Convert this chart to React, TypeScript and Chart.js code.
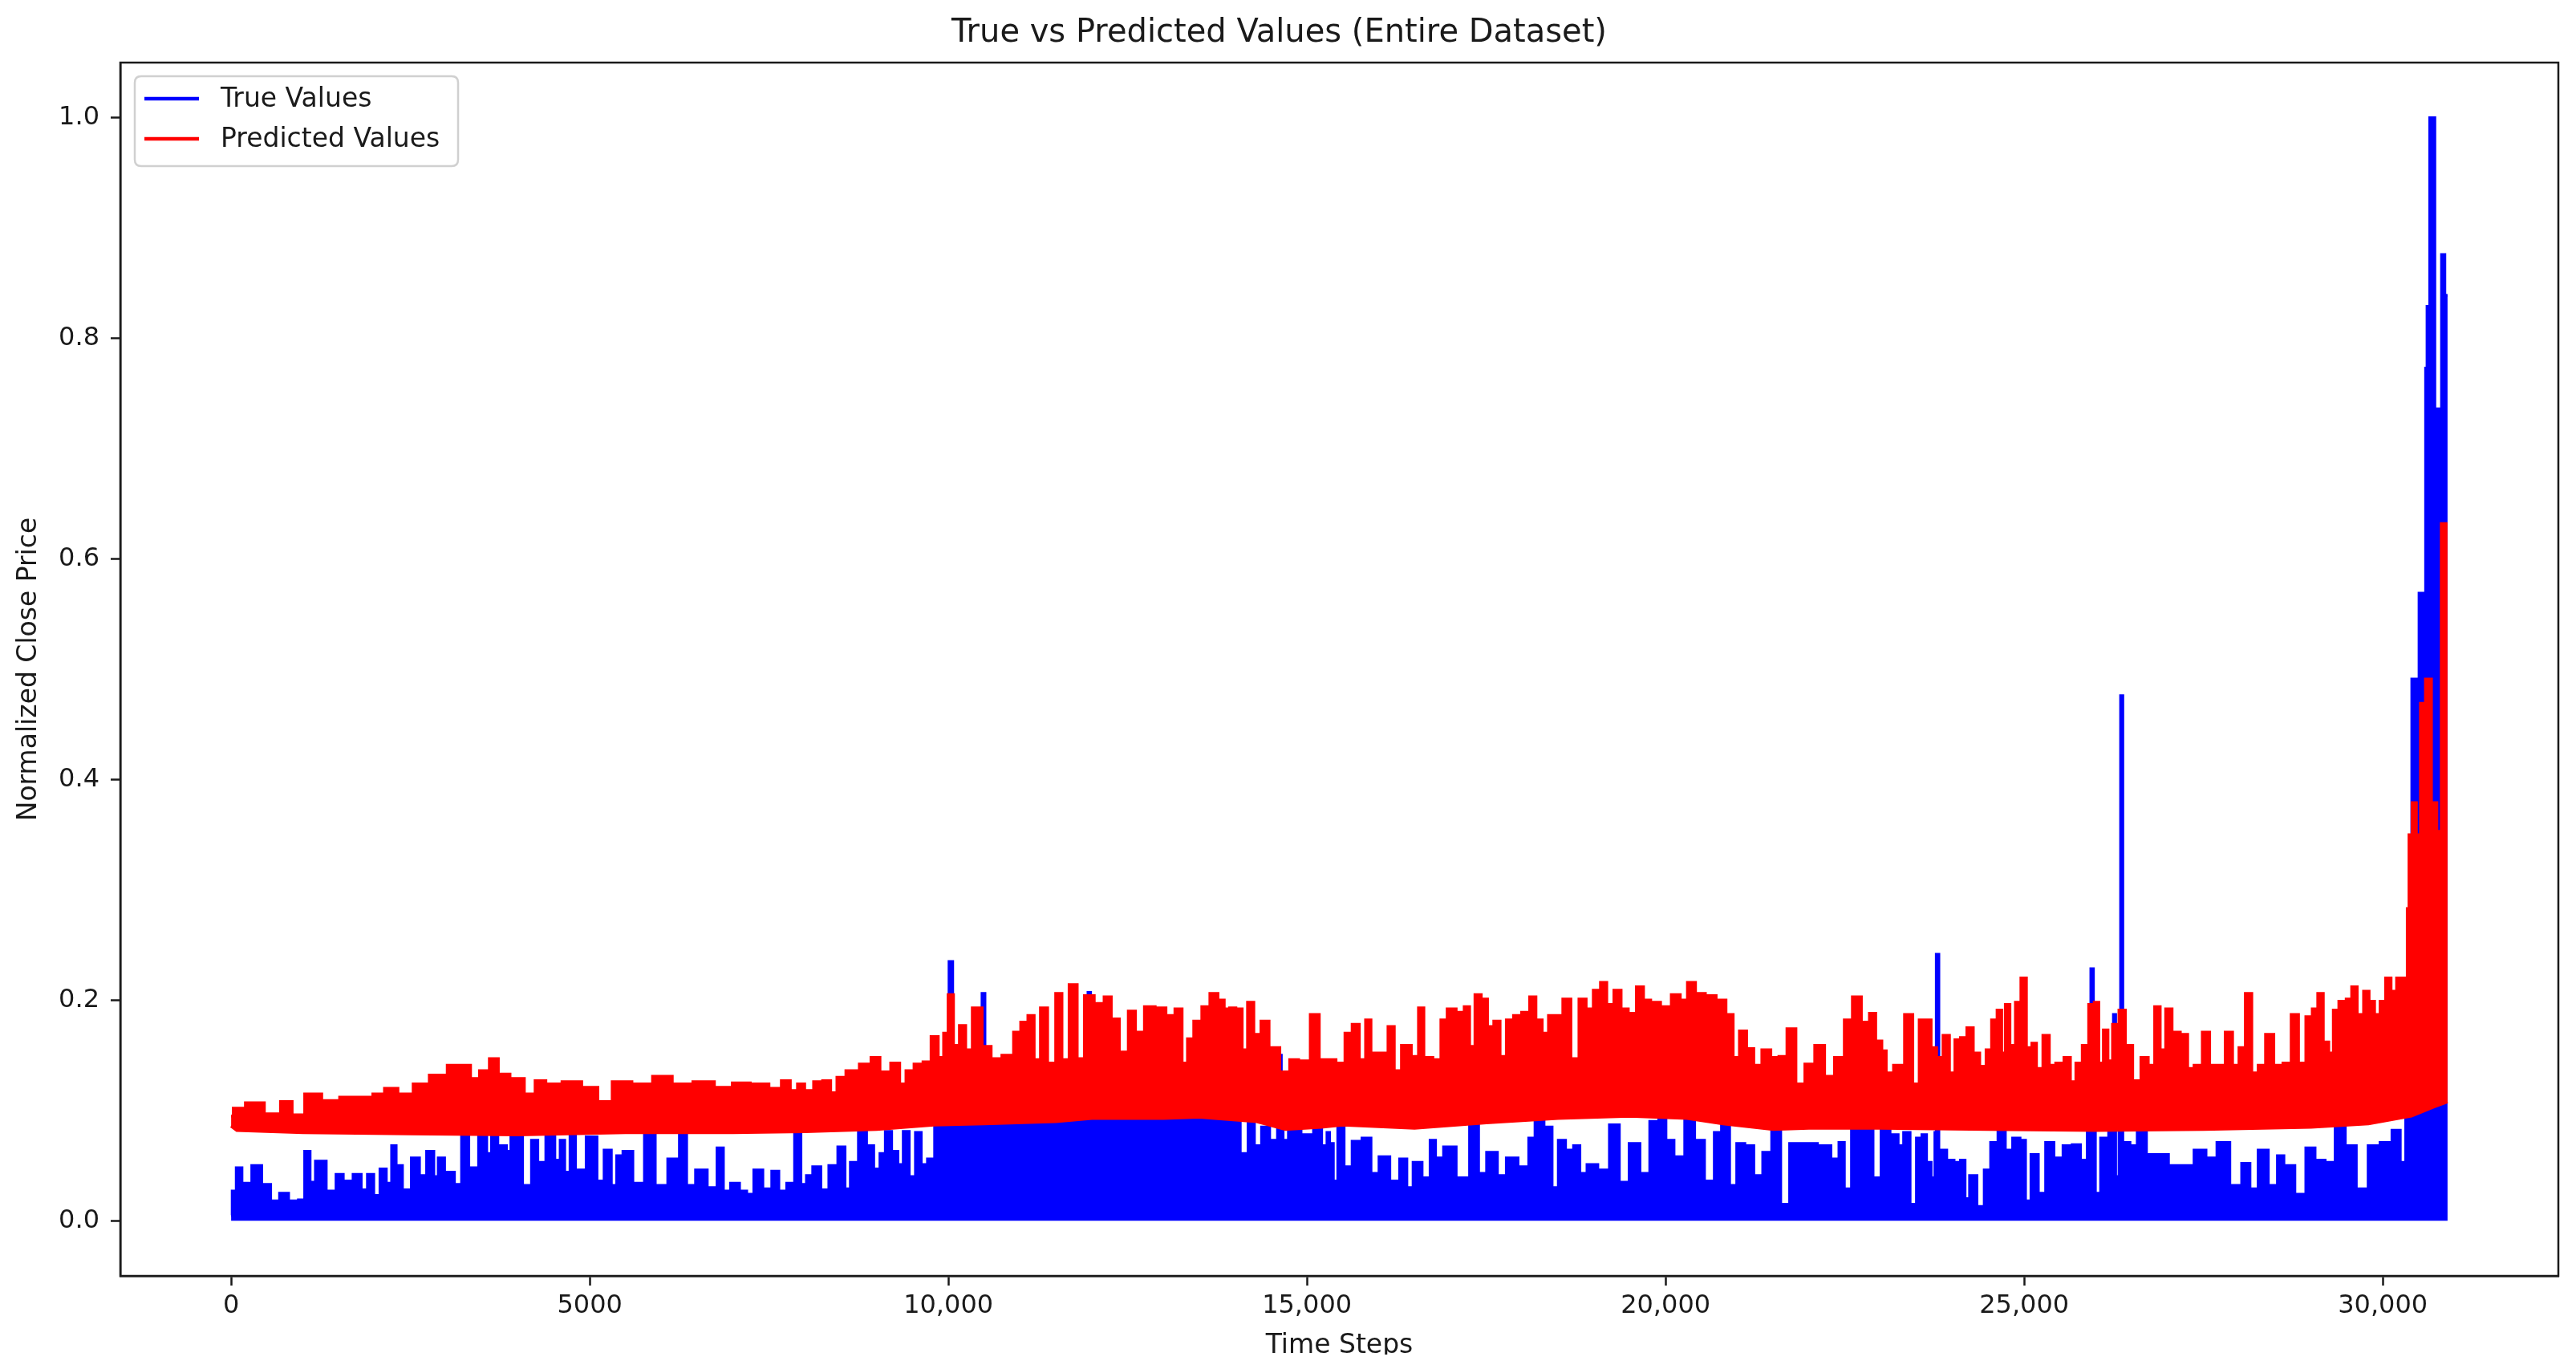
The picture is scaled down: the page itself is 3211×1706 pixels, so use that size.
import React, { useEffect, useRef } from "react";
import { Chart, registerables } from "chart.js";

Chart.register(...registerables);

// ---- Data ----
const trueSteps = [
  0, 30, 113, 188, 388, 463, 638, 713, 888, 988, 1063, 1138, 1213, 1438, 1488, 1638, 1763, 1863, 1938, 2038,
  2113, 2213, 2263, 2338, 2438, 2588, 2663, 2788, 2863, 2913, 3038, 3188, 3238, 3388, 3513, 3613, 3648, 3788,
  3888, 3913, 3988, 4138, 4238, 4313, 4463, 4563, 4613, 4688, 4763, 4838, 5063, 5138, 5263, 5338, 5413, 5513,
  5688, 5838, 5988, 6188, 6313, 6388, 6563, 6713, 6838, 6888, 7038, 7138, 7238, 7338, 7488, 7588,
  7684, 7809, 7904, 7984, 8059, 8159, 8284, 8384, 8534, 8584, 8684, 8809, 8909, 9009, 9084, 9159, 9259, 9334,
  9409, 9499, 9584, 9659, 9759, 9859, 10000, 10020, 10050, 10070, 10180, 10209, 10240, 10460, 10480, 10500,
  10520, 11390, 11409, 11430, 11590, 11609, 11630, 11940, 11955, 11975, 11990, 12240, 12259, 12280, 12460,
  12484, 12510, 13090, 13109, 13130, 13390, 13409, 13430, 13940, 13959, 13980, 14159, 14200, 14334, 14400,
  14559, 14620, 14634, 14650, 14684, 14800, 15034, 15150, 15259, 15300,
  15330, 15405, 15455, 15580, 15680, 15855, 15930, 16080, 16230, 16355, 16430, 16530, 16680, 16755, 16830,
  16980, 17180, 17355, 17430, 17580, 17730, 17830, 18055, 18130, 18230, 18380, 18455, 18555, 18655, 18780,
  18830, 18980, 19130, 19305, 19405, 19580, 19705, 19855, 19955, 20055, 20180, 20355, 20455, 20630, 20730,
  20830, 20955, 21030, 21180, 21280, 21430, 21530, 21680, 21780, 22005, 22230, 22380, 22455, 22530, 22655,
  22830, 22955, 23055,
  23204, 23281, 23358, 23460, 23536, 23613, 23664, 23741, 23770, 23780, 23805, 23815, 23869, 23971, 24073,
  24150, 24201, 24277, 24405, 24482, 24584, 24686, 24788, 24891, 24993, 25044, 25146, 25248, 25351, 25478,
  25606, 25734, 25836, 25925, 25935, 25960, 25970, 26015, 26117, 26240, 26250, 26270, 26280, 26306, 26340,
  26350, 26370, 26380, 26424, 26526, 26628, 26781, 26935, 27088, 27292, 27446, 27624, 27752, 27982, 28084,
  28212, 28314, 28493, 28570, 28672, 28876, 28979, 29132, 29260, 29413, 29541, 29720, 29873, 30052, 30205,
  30282, 30358, 30400, 30410, 30490, 30500, 30512, 30568, 30590, 30605, 30630, 30680, 30716, 30735, 30754,
  30791, 30810, 30829, 30860, 30870, 30903,
];
const trueValues = [
  0.005, 0.027, 0.048, 0.034, 0.05, 0.033, 0.018, 0.025, 0.018, 0.019, 0.063, 0.035, 0.054, 0.027, 0.042, 0.036, 0.042, 0.028, 0.042, 0.023,
  0.047, 0.034, 0.068, 0.05, 0.028, 0.057, 0.041, 0.063, 0.04, 0.057, 0.044, 0.033, 0.082, 0.048, 0.076, 0.061, 0.086, 0.068,
  0.063, 0.078, 0.079, 0.032, 0.073, 0.053, 0.08, 0.055, 0.073, 0.044, 0.079, 0.046, 0.076, 0.036, 0.064, 0.032, 0.059, 0.063,
  0.034, 0.08, 0.032, 0.056, 0.078, 0.032, 0.046, 0.03, 0.066, 0.027, 0.034, 0.027, 0.024, 0.046, 0.029, 0.045,
  0.027, 0.034, 0.079, 0.033, 0.041, 0.049, 0.028, 0.05, 0.067, 0.029, 0.053, 0.081, 0.068, 0.047, 0.061, 0.081, 0.063, 0.051,
  0.081, 0.04, 0.08, 0.051, 0.056, 0.09, 0.09, 0.235, 0.235, 0.09, 0.09, 0.061, 0.09, 0.09, 0.206, 0.206,
  0.09, 0.09, 0.033, 0.09, 0.09, 0.046, 0.09, 0.092, 0.207, 0.207, 0.092, 0.092, 0.065, 0.092, 0.092,
  0.07, 0.092, 0.093, 0.022, 0.093, 0.093, 0.07, 0.093, 0.092, 0.047, 0.092, 0.061, 0.09, 0.068, 0.085,
  0.073, 0.085, 0.15, 0.085, 0.073, 0.082, 0.078, 0.083, 0.068, 0.08,
  0.07, 0.036, 0.085, 0.049, 0.072, 0.075, 0.043, 0.058, 0.036, 0.056, 0.03, 0.053, 0.039, 0.073, 0.057,
  0.067, 0.039, 0.089, 0.043, 0.062, 0.041, 0.057, 0.049, 0.075, 0.092, 0.085, 0.03, 0.073, 0.064, 0.068,
  0.043, 0.051, 0.046, 0.087, 0.035, 0.07, 0.043, 0.09, 0.095, 0.073, 0.058, 0.095, 0.073, 0.036, 0.08,
  0.091, 0.032, 0.07, 0.068, 0.041, 0.062, 0.087, 0.015, 0.07, 0.07, 0.068, 0.056, 0.071, 0.029, 0.093,
  0.091, 0.039, 0.087,
  0.078, 0.068, 0.08, 0.015, 0.075, 0.078, 0.053, 0.039, 0.08, 0.2415, 0.2415, 0.06, 0.064, 0.055, 0.053,
  0.055, 0.02, 0.041, 0.013, 0.046, 0.071, 0.082, 0.064, 0.075, 0.073, 0.018, 0.06, 0.025, 0.071, 0.057,
  0.068, 0.069, 0.055, 0.08, 0.2285, 0.2285, 0.08, 0.025, 0.075, 0.08, 0.187, 0.187, 0.04, 0.04, 0.08,
  0.476, 0.476, 0.07, 0.071, 0.068, 0.085, 0.06, 0.06, 0.05, 0.05, 0.064, 0.057, 0.071, 0.032, 0.052,
  0.029, 0.064, 0.032, 0.059, 0.05, 0.024, 0.066, 0.055, 0.053, 0.085, 0.068, 0.029, 0.068, 0.071, 0.082,
  0.053, 0.096, 0.1, 0.491, 0.491, 0.38, 0.569, 0.569, 0.45, 0.773, 0.829, 1.0, 1.0, 0.53, 0.736,
  0.736, 0.45, 0.876, 0.876, 0.839, 0.839,
];

const predictedSteps = [
  0, 60, 338, 588, 788, 913, 1138, 1388, 1638, 1888, 2063, 2213, 2438, 2638, 2888, 3138, 3288, 3388, 3538, 3663,
  3788, 3988, 4188, 4288, 4488, 4738, 5038, 5188, 5438, 5738, 6013, 6288, 6588, 6888, 7088, 7388,
  7609, 7734, 7859, 7934, 8059, 8184, 8309, 8409, 8484, 8659, 8859, 8984, 9109, 9284, 9359, 9459, 9584, 9709,
  9809, 9909, 9959, 10034, 10109, 10199, 10284, 10384, 10559, 10634, 10859, 10959, 11059, 11159, 11234, 11334,
  11434, 11559, 11609, 11759, 11834, 11959, 12109, 12234, 12309, 12459, 12559, 12659, 12809, 12959, 13109,
  13209, 13309, 13359, 13484, 13584, 13709, 13809, 13884, 13959, 14059, 14134, 14209, 14309, 14409, 14534,
  14709, 14809, 14959, 15134, 15209,
  15330, 15480, 15580, 15680, 15780, 15855, 15930, 16080, 16180, 16255, 16380, 16530, 16580, 16680, 16830,
  16905, 17005, 17155, 17230, 17305, 17380, 17480, 17555, 17655, 17730, 17830, 17930, 18055, 18155, 18230,
  18330, 18405, 18505, 18630, 18730, 18855, 18930, 19055, 19130, 19230, 19330, 19430, 19530, 19655, 19730,
  19855, 20005, 20155, 20255, 20355, 20480, 20630, 20780, 20905, 20980, 21080, 21180, 21280, 21405, 21530,
  21630, 21755, 21880, 22005, 22155, 22280, 22430, 22555, 22655, 22805, 22880, 22980,
  23051, 23102, 23255, 23409, 23485, 23588, 23664, 23741, 23818, 23920, 23996, 24073, 24150, 24252, 24329,
  24431, 24507, 24584, 24661, 24712, 24763, 24840, 24916, 24993, 25069, 25146, 25197, 25325, 25376, 25504,
  25606, 25683, 25759, 25861, 25938, 26015, 26066, 26143, 26194, 26270, 26373, 26449, 26577, 26679, 26781,
  26858, 26935, 27011, 27113, 27241, 27318, 27420, 27548, 27624, 27752, 27854, 27957, 28033, 28135, 28212,
  28314, 28417, 28544, 28672, 28774, 28876, 28979, 29055, 29132, 29209, 29285, 29336, 29439, 29541, 29592,
  29694, 29771, 29847, 29924, 30001, 30077, 30154, 30231, 30333, 30350, 30381, 30437, 30500, 30550, 30640,
  30717, 30791, 30840, 30903,
];
const predictedHigh = [
  0.095, 0.102, 0.107, 0.097, 0.108, 0.096, 0.115, 0.109, 0.112, 0.112, 0.115, 0.12, 0.115, 0.124, 0.132, 0.141, 0.141, 0.129, 0.136, 0.147,
  0.133, 0.129, 0.115, 0.127, 0.124, 0.126, 0.121, 0.108, 0.126, 0.124, 0.131, 0.124, 0.126, 0.121, 0.125, 0.124,
  0.12, 0.127, 0.118, 0.124, 0.118, 0.126, 0.127, 0.116, 0.13, 0.136, 0.142, 0.148, 0.135, 0.143, 0.124, 0.136, 0.142, 0.144,
  0.167, 0.148, 0.17, 0.205, 0.159, 0.177, 0.155, 0.193, 0.158, 0.147, 0.15, 0.171, 0.18, 0.186, 0.146, 0.193,
  0.143, 0.206, 0.146, 0.214, 0.147, 0.204, 0.197, 0.203, 0.183, 0.153, 0.19, 0.171, 0.194, 0.193, 0.186,
  0.192, 0.143, 0.165, 0.181, 0.194, 0.206, 0.2, 0.192, 0.193, 0.192, 0.155, 0.198, 0.169, 0.181, 0.157,
  0.135, 0.146, 0.145, 0.187, 0.146,
  0.146, 0.143, 0.17, 0.178, 0.146, 0.182, 0.152, 0.152, 0.176, 0.136, 0.159, 0.149, 0.193, 0.148, 0.146,
  0.182, 0.192, 0.189, 0.194, 0.158, 0.205, 0.201, 0.176, 0.181, 0.149, 0.182, 0.186, 0.189, 0.203, 0.182,
  0.17, 0.186, 0.186, 0.201, 0.147, 0.201, 0.192, 0.209, 0.216, 0.196, 0.209, 0.192, 0.188, 0.212, 0.2,
  0.198, 0.194, 0.205, 0.2, 0.216, 0.206, 0.204, 0.2, 0.187, 0.148, 0.172, 0.156, 0.141, 0.155, 0.148,
  0.149, 0.174, 0.124, 0.142, 0.159, 0.131, 0.148, 0.182, 0.203, 0.18, 0.188, 0.163,
  0.154, 0.134, 0.141, 0.187, 0.124, 0.182, 0.182, 0.157, 0.148, 0.168, 0.134, 0.164, 0.166, 0.175, 0.152,
  0.14, 0.155, 0.182, 0.191, 0.152, 0.196, 0.159, 0.198, 0.22, 0.157, 0.161, 0.138, 0.168, 0.141, 0.143,
  0.148, 0.126, 0.143, 0.159, 0.196, 0.198, 0.143, 0.173, 0.145, 0.178, 0.191, 0.159, 0.127, 0.148, 0.141,
  0.194, 0.155, 0.192, 0.171, 0.169, 0.138, 0.141, 0.171, 0.141, 0.141, 0.171, 0.141, 0.157, 0.206, 0.134,
  0.141, 0.169, 0.141, 0.143, 0.187, 0.143, 0.185, 0.192, 0.206, 0.162, 0.152, 0.191, 0.199, 0.201, 0.212,
  0.187, 0.208, 0.199, 0.187, 0.199, 0.22, 0.208, 0.22, 0.22, 0.283, 0.35, 0.379, 0.35, 0.469, 0.491,
  0.379, 0.353, 0.632, 0.632,
];

const predictedLowSteps = [
  0, 80, 1000, 2500, 4000, 5500, 7000, 8000, 9000, 9800, 10500, 11500, 12000, 13000, 13500, 14300, 14700,
  15200, 15500, 16500, 17500, 18500, 19500, 20300, 20800, 21500, 22000, 23000, 24500, 26000, 27500, 29000,
  29800, 30400, 30700, 30903,
];
const predictedLow = [
  0.086, 0.082, 0.08, 0.079, 0.078, 0.08, 0.08, 0.081, 0.083, 0.087, 0.088, 0.09, 0.093, 0.093, 0.094, 0.09, 0.083,
  0.085, 0.087, 0.084, 0.089, 0.093, 0.095, 0.093, 0.088, 0.083, 0.084, 0.084, 0.083, 0.082, 0.083, 0.085,
  0.088, 0.095, 0.103, 0.108,
];

const xTickValues = [0, 5000, 10000, 15000, 20000, 25000, 30000];
const xTickLabels = ["0", "5000", "10,000", "15,000", "20,000", "25,000", "30,000"];
const yTickValues = [0, 0.2, 0.4, 0.6, 0.8, 1.0];
const yTickLabels = ["0.0", "0.2", "0.4", "0.6", "0.8", "1.0"];

const chartTitle = "True vs Predicted Values (Entire Dataset)";
const xTitle = "Time Steps";
const yTitle = "Normalized Close Price";
const trueLabel = "True Values";
const predictedLabel = "Predicted Values";

const X_MIN = -1545;
const X_MAX = 32448;
const Y_MIN = -0.05;
const Y_MAX = 1.05;

const FONT = '"DejaVu Sans", "Liberation Sans", sans-serif';
const TEXT = "#1a1a1a";
const AXIS = "#1a1a1a";

const CANVAS_W = 3211;
const CANVAS_H = 1688;

const toPoints = (xs: number[], ys: number[]) => xs.map((x, i) => ({ x, y: ys[i] }));

const spinePlugin = {
  id: "spines",
  afterDatasetsDraw(chart: any) {
    const { ctx, chartArea } = chart;
    ctx.save();
    ctx.strokeStyle = AXIS;
    ctx.lineWidth = 2.5;
    ctx.strokeRect(chartArea.left, chartArea.top, chartArea.right - chartArea.left, chartArea.bottom - chartArea.top);
    ctx.restore();
  },
};

const legendPlugin = {
  id: "mplLegend",
  afterDatasetsDraw(chart: any) {
    const { ctx, chartArea } = chart;
    const items = chart.data.datasets.filter((d: any) => !d.legendHidden);
    const x = chartArea.left + 18;
    const y = chartArea.top + 17;
    const w = 403;
    const h = 112;
    const r = 8;
    ctx.save();
    ctx.beginPath();
    ctx.moveTo(x + r, y);
    ctx.lineTo(x + w - r, y);
    ctx.quadraticCurveTo(x + w, y, x + w, y + r);
    ctx.lineTo(x + w, y + h - r);
    ctx.quadraticCurveTo(x + w, y + h, x + w - r, y + h);
    ctx.lineTo(x + r, y + h);
    ctx.quadraticCurveTo(x, y + h, x, y + h - r);
    ctx.lineTo(x, y + r);
    ctx.quadraticCurveTo(x, y, x + r, y);
    ctx.closePath();
    ctx.fillStyle = "rgba(255,255,255,0.8)";
    ctx.fill();
    ctx.strokeStyle = "#d0d0d0";
    ctx.lineWidth = 2.5;
    ctx.stroke();
    items.forEach((d: any, i: number) => {
      const cy = y + 28 + i * 50;
      ctx.beginPath();
      ctx.strokeStyle = d.borderColor;
      ctx.lineWidth = 4.5;
      ctx.moveTo(x + 12, cy);
      ctx.lineTo(x + 80, cy);
      ctx.stroke();
      ctx.fillStyle = TEXT;
      ctx.font = `33px ${FONT}`;
      ctx.textBaseline = "middle";
      ctx.textAlign = "left";
      ctx.fillText(d.label, x + 107, cy + 1);
    });
    ctx.restore();
  },
};

export default function App() {
  const canvasRef = useRef<HTMLCanvasElement | null>(null);

  useEffect(() => {
    const canvas = canvasRef.current;
    if (!canvas) return;
    const chart = new Chart(canvas, {
      type: "line",
      data: {
        datasets: [
          {
            label: trueLabel,
            data: toPoints(trueSteps, trueValues),
            borderColor: "#0000ff",
            backgroundColor: "#0000ff",
            borderWidth: 3.5,
            pointRadius: 0,
            stepped: "middle",
            fill: { value: 0 },
            order: 2,
          } as any,
          {
            label: predictedLabel + " (lower)",
            legendHidden: true,
            data: toPoints(predictedLowSteps, predictedLow),
            borderColor: "#ff0000",
            backgroundColor: "#ff0000",
            borderWidth: 4,
            pointRadius: 0,
            fill: false,
            order: 1,
          } as any,
          {
            label: predictedLabel,
            data: toPoints(predictedSteps, predictedHigh),
            borderColor: "#ff0000",
            backgroundColor: "#ff0000",
            borderWidth: 3.5,
            pointRadius: 0,
            stepped: "middle",
            fill: 1,
            order: 0,
          } as any,
        ],
      },
      options: {
        responsive: false,
        animation: false,
        devicePixelRatio: 1,
        events: [],
        layout: { padding: { left: 0, right: 22, top: 0, bottom: 0 } },
        plugins: {
          legend: { display: false },
          tooltip: { enabled: false },
          title: {
            display: true,
            text: chartTitle,
            color: TEXT,
            font: { family: FONT, size: 40, weight: "normal", lineHeight: 1.2 },
            padding: { top: 18, bottom: 12 },
          },
        },
        scales: {
          x: {
            type: "linear",
            min: X_MIN,
            max: X_MAX,
            afterFit: (s: any) => {
              s.height = CANVAS_H - 1590;
            },
            afterBuildTicks: (s: any) => {
              s.ticks = xTickValues.map((v) => ({ value: v }));
            },
            ticks: {
              autoSkip: false,
              maxRotation: 0,
              padding: 6,
              color: TEXT,
              font: { family: FONT, size: 32 },
              callback: (v: any) => {
                const i = xTickValues.indexOf(Number(v));
                return i >= 0 ? xTickLabels[i] : "";
              },
            },
            grid: { drawOnChartArea: false, drawTicks: true, tickLength: 12, tickWidth: 2.5, tickColor: AXIS },
            border: { display: true, color: AXIS, width: 2.5 },
            title: {
              display: true,
              text: xTitle,
              color: TEXT,
              font: { family: FONT, size: 33, lineHeight: 0.66 },
              padding: { top: 0, bottom: 0 },
            },
          },
          y: {
            type: "linear",
            min: Y_MIN,
            max: Y_MAX,
            afterFit: (s: any) => {
              s.width = 150;
            },
            afterBuildTicks: (s: any) => {
              s.ticks = yTickValues.map((v) => ({ value: v }));
            },
            ticks: {
              autoSkip: false,
              padding: 14,
              color: TEXT,
              font: { family: FONT, size: 32 },
              callback: (v: any) => {
                const i = yTickValues.findIndex((t) => Math.abs(t - Number(v)) < 1e-9);
                return i >= 0 ? yTickLabels[i] : "";
              },
            },
            grid: { drawOnChartArea: false, drawTicks: true, tickLength: 12, tickWidth: 2.5, tickColor: AXIS },
            border: { display: true, color: AXIS, width: 2.5 },
            title: {
              display: true,
              text: yTitle,
              color: TEXT,
              font: { family: FONT, size: 33, lineHeight: 1.2 },
              padding: { top: 17, bottom: 0 },
            },
          },
        },
      } as any,
      plugins: [spinePlugin, legendPlugin],
    });
    return () => chart.destroy();
  }, []);

  return (
    <div
      style={{
        position: "fixed",
        left: 0,
        top: 0,
        width: CANVAS_W,
        height: 1706,
        overflow: "hidden",
        background: "#ffffff",
      }}
    >
      <canvas ref={canvasRef} width={CANVAS_W} height={CANVAS_H} style={{ display: "block" }} />
    </div>
  );
}
